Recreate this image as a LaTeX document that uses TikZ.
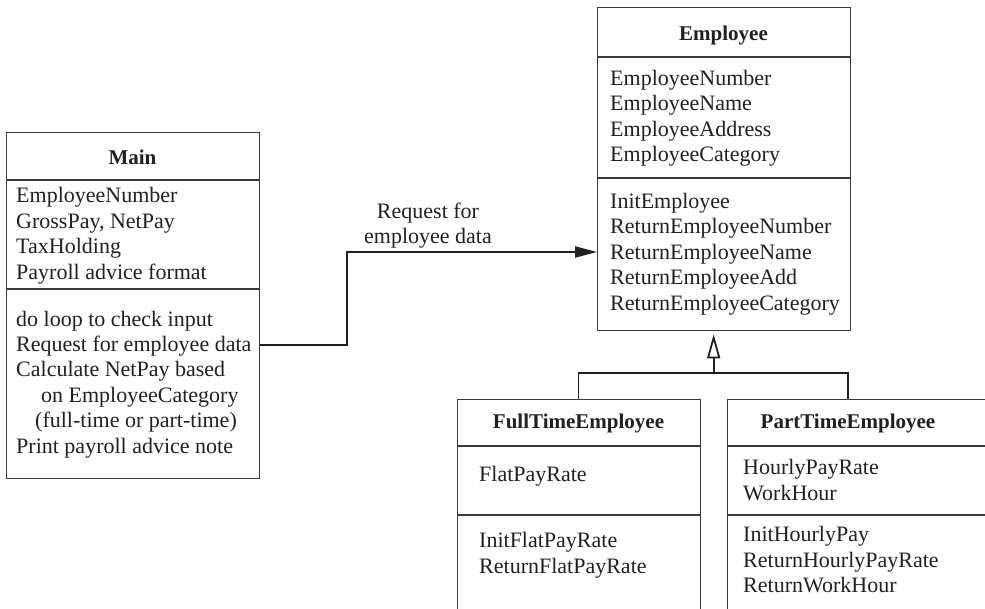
\documentclass[tikz,border=0pt]{standalone}
\usepackage{fontspec}
\setmainfont{Liberation Serif}
\usetikzlibrary{calc,arrows.meta}
\definecolor{ink}{HTML}{231F20}
\definecolor{rule}{HTML}{3A3A3A}

\tikzset{
  classbox/.style={draw=rule, line width=1.3pt, fill=none, inner sep=0pt, anchor=north west},
  divider/.style={draw=rule, line width=1.3pt},
  title/.style={font=\fontsize{21}{25.4}\selectfont\bfseries, text=ink, inner sep=0pt, anchor=base},
  % multi-line members: the base anchor sits on the last line
  members/.style={font=\fontsize{22}{25.4}\selectfont, text=ink, inner sep=0pt, align=left, anchor=base west},
  msg/.style={draw=ink, line width=2pt, -{Triangle[length=22pt,width=11pt]}},
  inherit/.style={draw=ink, line width=1.8pt},
  inherittip/.style={draw=ink, line width=1.8pt, -{Triangle[open,length=24pt,width=13pt,fill=white]}},
  lbl/.style={font=\fontsize{22}{25}\selectfont, text=ink, inner sep=0pt, align=center, anchor=base}
}

\begin{document}
\begin{tikzpicture}[x=1pt,y=-1pt]
  \useasboundingbox (0,0) rectangle (985,608);
  \clip (0,0) rectangle (985,608);

  % ---- class boxes ----
  \node[classbox, minimum width=253pt, minimum height=346pt] (main) at (6,132) {};
  \node[classbox, minimum width=253pt, minimum height=323pt] (emp) at (597,7) {};
  \node[classbox, minimum width=243pt, minimum height=260pt] (full) at (457,399) {};
  \node[classbox, minimum width=280pt, minimum height=260pt] (part) at (727,399) {};

  % ---- compartment dividers ----
  \draw[divider] ($(main.north west)+(0,48)$) -- ($(main.north east)+(0,48)$);
  \draw[divider] ($(main.north west)+(0,157)$) -- ($(main.north east)+(0,157)$);
  \draw[divider] ($(emp.north west)+(0,50)$) -- ($(emp.north east)+(0,50)$);
  \draw[divider] ($(emp.north west)+(0,171)$) -- ($(emp.north east)+(0,171)$);
  \draw[divider] ($(full.north west)+(0,47)$) -- ($(full.north east)+(0,47)$);
  \draw[divider] ($(full.north west)+(0,116)$) -- ($(full.north east)+(0,116)$);
  \draw[divider] ($(part.north west)+(0,47)$) -- ($(part.north east)+(0,47)$);
  \draw[divider] ($(part.north west)+(0,116)$) -- ($(part.north east)+(0,116)$);

  % ---- Main ----
  \node[title] (main-title) at (132.5,164) {Main};
  \node[members] (main-attr) at (16,279) {EmployeeNumber\\GrossPay, NetPay\\TaxHolding\\Payroll advice format};
  \node[members] (main-ops) at (16,453) {do loop to check input\\Request for employee data\\Calculate NetPay based\\\hspace*{25pt}on EmployeeCategory\\\hspace*{19pt}(full-time or part-time)\\Print payroll advice note};

  % ---- Employee ----
  \node[title] (emp-title) at (723.5,40) {Employee};
  \node[members] (emp-attr) at (610,161.5) {EmployeeNumber\\EmployeeName\\EmployeeAddress\\EmployeeCategory};
  \node[members] (emp-ops) at (610,310) {InitEmployee\\ReturnEmployeeNumber\\ReturnEmployeeName\\ReturnEmployeeAdd\\ReturnEmployeeCategory};

  % ---- FullTimeEmployee ----
  \node[title] (full-title) at (578.5,428.3) {FullTimeEmployee};
  \node[members] (full-attr) at (479,481.7) {FlatPayRate};
  \node[members] (full-ops) at (479,573.3) {InitFlatPayRate\\ReturnFlatPayRate};

  % ---- PartTimeEmployee ----
  \node[title] (part-title) at (848,428.3) {PartTimeEmployee};
  \node[members] (part-attr) at (743,500) {HourlyPayRate\\WorkHour};
  \node[members] (part-ops) at (743,592.7) {InitHourlyPay\\ReturnHourlyPayRate\\ReturnWorkHour};

  % ---- message from Main to Employee ----
  \coordinate (req-out) at ($(main.north east)+(0,213)$);
  \coordinate (req-in) at ($(emp.north west)+(0,245)$);
  \draw[msg] (req-out) -| (347,252) -- (req-in);
  \node[lbl] (req-label) at (428,243.3) {Request for\\employee data};

  % ---- generalization ----
  \coordinate (gen-tip) at ($(emp.south)+(-10.5,3)$);
  \coordinate (gen-join) at ($(emp.south)+(-10.5,42)$);
  \draw[inherit] (full.north -| full-title) |- (gen-join) -| (part.north -| part-title);
  \draw[inherittip] (gen-join) -- (gen-tip);
\end{tikzpicture}
\end{document}
